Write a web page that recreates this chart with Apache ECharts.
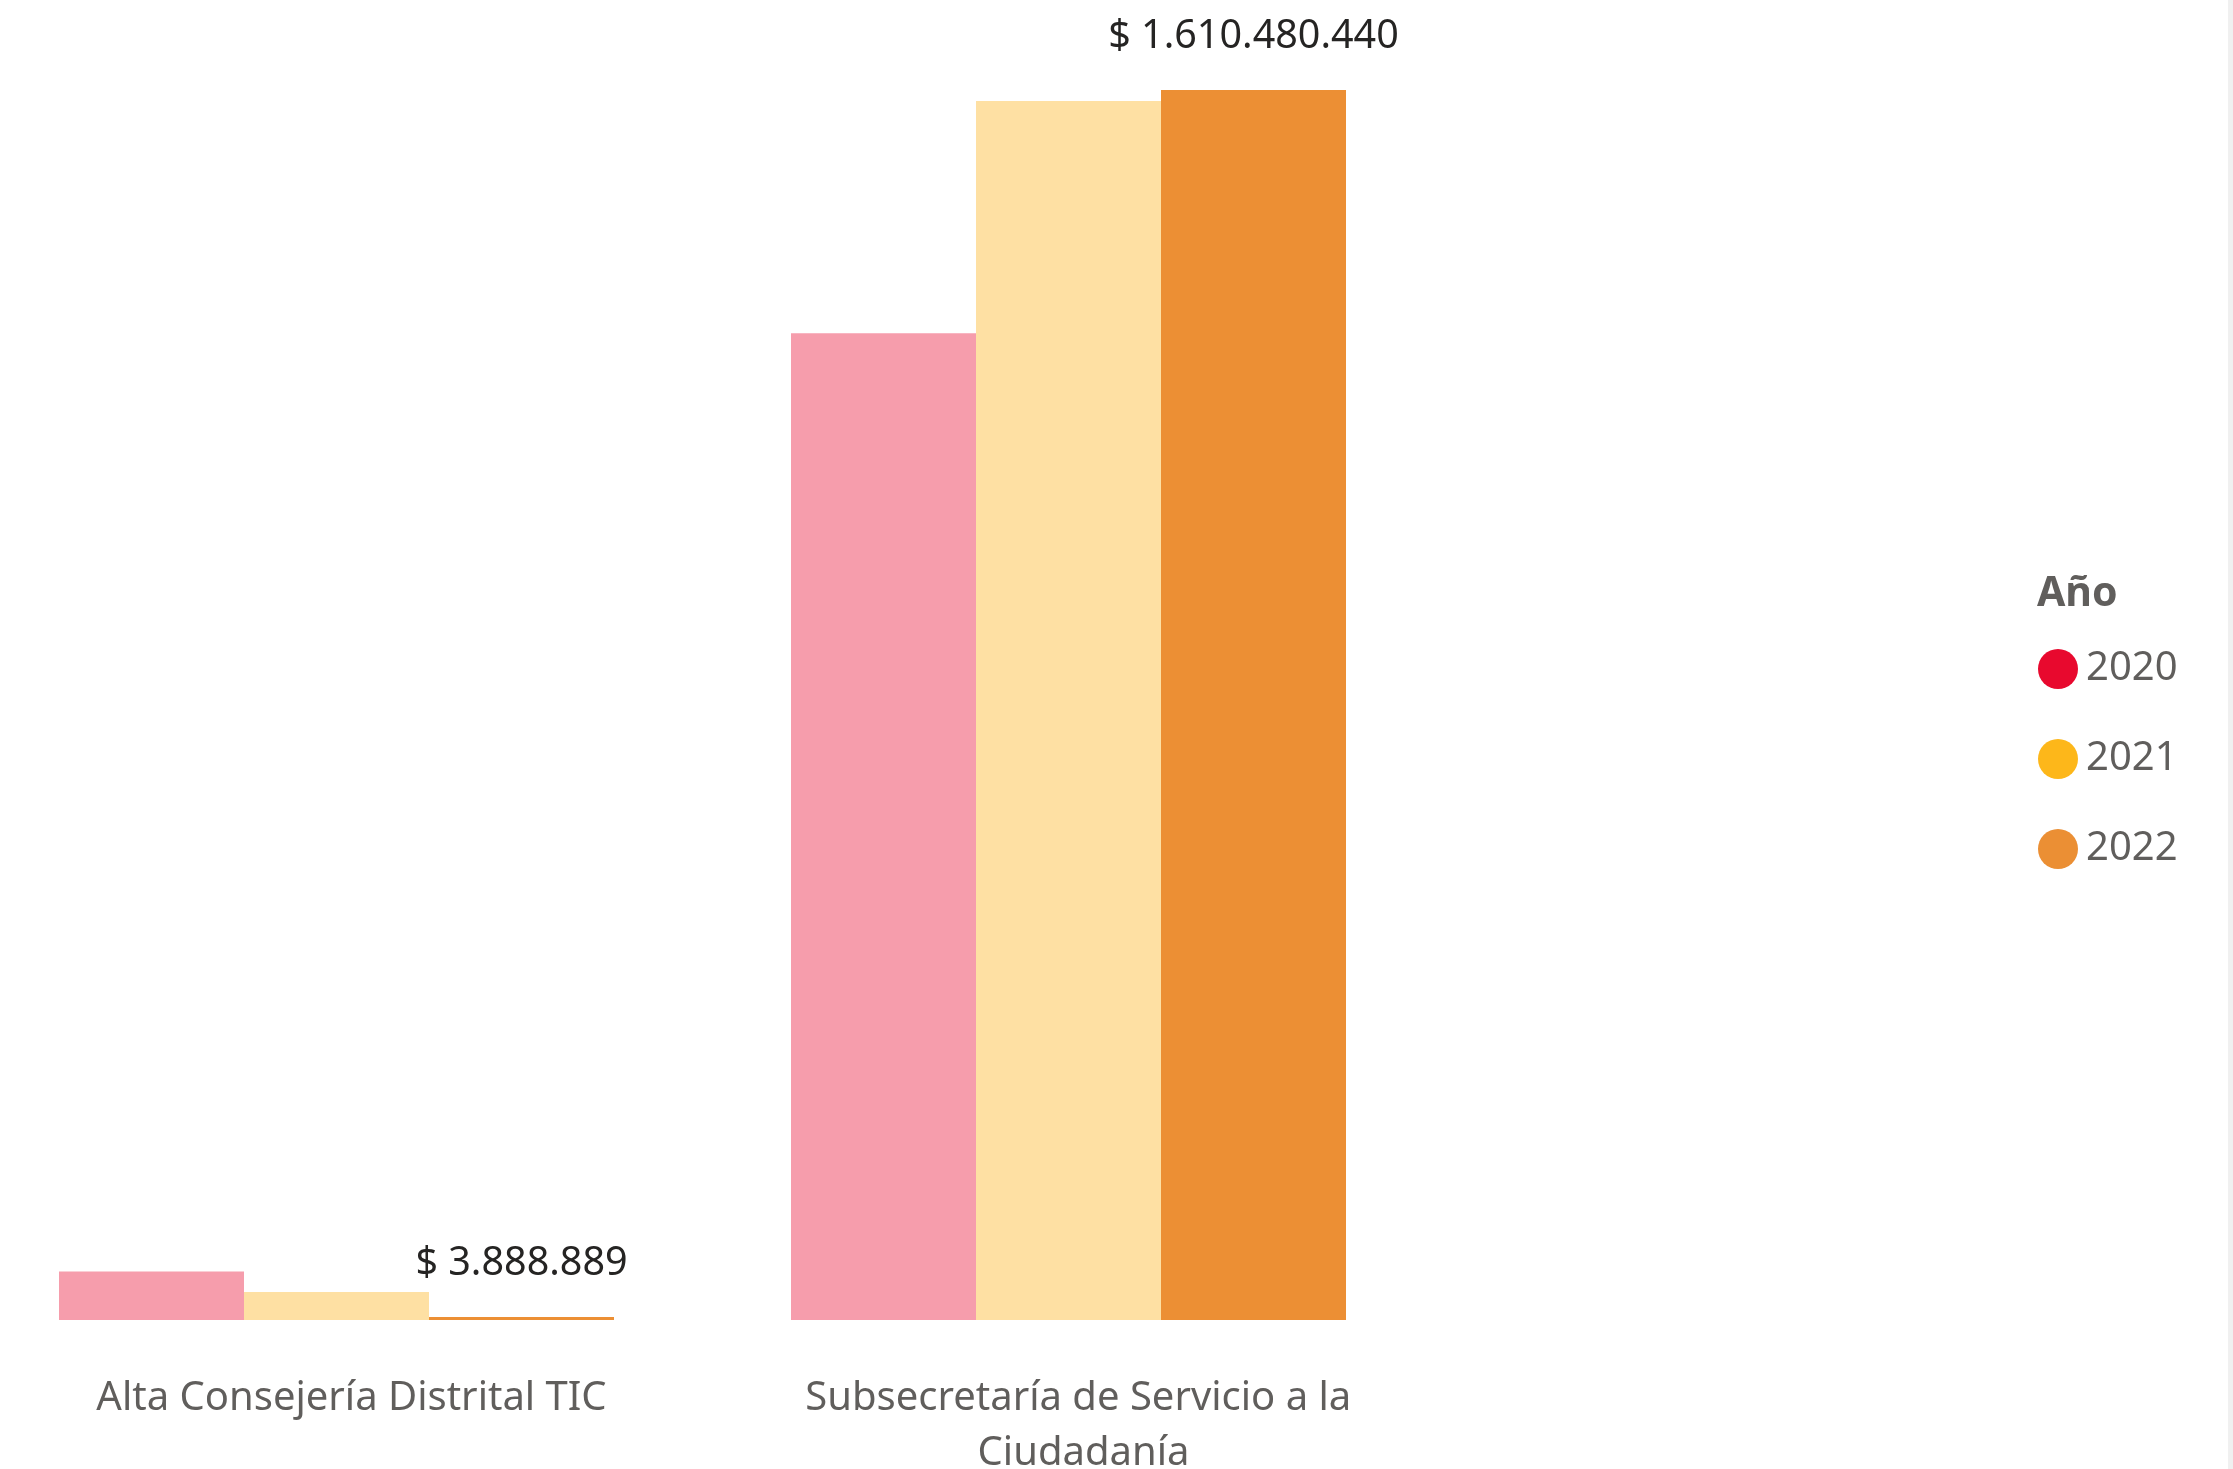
<!DOCTYPE html>
<html>
<head>
<meta charset="utf-8">
<script src="https://cdn.jsdelivr.net/npm/echarts@6/dist/echarts.min.js"></script>
<style>
  html, body { margin: 0; padding: 0; background: #fff; }
  #chart { width: 2233px; height: 1469px; }
</style>
</head>
<body>
<div id="chart"></div>
<script>
// datos
const categorias = ['Alta Consejería Distrital TIC', 'Subsecretaría de Servicio a la Ciudadanía']
const anios = ['2020', '2021', '2022']
const valores2020 = [63400000, 1292000000]
const valores2021 = [36700000, 1596000000]
const valores2022 = [3888889, 1610480440]

// colores: llenos para la leyenda, atenuados para las barras no resaltadas
const coloresLeyenda = ['#E8092E', '#FDB71A', '#EB8F34']
const coloresBarra = ['#F69DAC', '#FEE0A3', '#EC8F34']

const fmtPesos = (v) => '$ ' + Math.round(v).toString().replace(/\B(?=(\d{3})+(?!\d))/g, '.')

const myChart = echarts.init(document.getElementById('chart'))

const serie = (nombre, datos, i, conEtiqueta) => ({
  name: nombre,
  type: 'bar',
  barWidth: 185,
  barGap: '0%',
  data: datos,
  itemStyle: { color: coloresBarra[i] },
  label: {
    show: conEtiqueta,
    position: 'top',
    distance: 33,
    fontFamily: 'Noto Sans',
    fontSize: 39.5,
    color: '#252423',
    formatter: (p) => fmtPesos(p.value)
  }
})

const option = {
  backgroundColor: '#fff',
  animation: false,
  title: {
    text: 'Año',
    left: 2032,
    top: 569,
    textStyle: { fontFamily: 'Noto Sans', fontSize: 41, fontWeight: 'bold', color: '#605E5C' }
  },
  legend: {
    orient: 'vertical',
    left: 2033,
    top: 644,
    icon: 'circle',
    itemWidth: 40,
    itemHeight: 40,
    itemGap: 50,
    textStyle: { fontFamily: 'Noto Sans', fontSize: 40, color: '#605E5C', padding: [0, 0, 0, 3] },
    data: anios.map((a, i) => ({ name: a, itemStyle: { color: coloresLeyenda[i] } }))
  },
  grid: {
    left: 336.5,
    right: 2233 - 1068.5,
    top: 90,
    bottom: 149,
    outerBoundsMode: 'none'
  },
  xAxis: {
    type: 'category',
    data: categorias,
    boundaryGap: false,
    axisLine: { show: false },
    axisTick: { show: false },
    splitLine: { show: false },
    axisLabel: {
      interval: 0,
      margin: 51,
      width: 610,
      overflow: 'break',
      fontFamily: 'Noto Sans',
      fontSize: 40,
      lineHeight: 55,
      color: '#605E5C',
      padding: [0, 0, 0, 30]
    }
  },
  yAxis: {
    type: 'value',
    show: false,
    min: 0,
    max: 'dataMax',
    splitLine: { show: false }
  },
  series: [
    serie(anios[0], valores2020, 0, false),
    serie(anios[1], valores2021, 1, false),
    serie(anios[2], valores2022, 2, true)
  ],
  graphic: [
    {
      type: 'rect',
      right: 0,
      top: 0,
      shape: { width: 5, height: 1469 },
      style: { fill: '#F0F0F0' }
    }
  ]
}

myChart.setOption(option)
</script>
</body>
</html>
